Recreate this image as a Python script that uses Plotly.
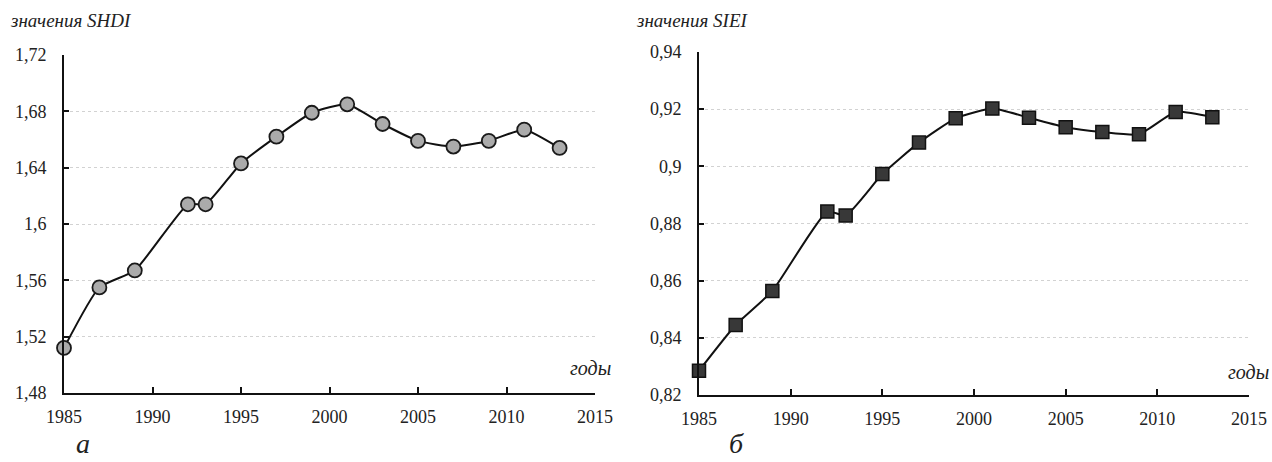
import plotly.graph_objects as go

years = [1985, 1987, 1989, 1992, 1993, 1995, 1997, 1999, 2001, 2003, 2005, 2007, 2009, 2011, 2013]
shdi = [1.512, 1.555, 1.567, 1.614, 1.614, 1.643, 1.662, 1.679, 1.685, 1.671, 1.659, 1.655, 1.659, 1.667, 1.654]
siei = [0.8285, 0.8445, 0.8564, 0.8842, 0.8828, 0.8973, 0.9083, 0.9168, 0.9202, 0.9170, 0.9137, 0.9120, 0.9112, 0.9190, 0.9172]

x_ticks = [1985, 1990, 1995, 2000, 2005, 2010, 2015]
shdi_ticks = [1.48, 1.52, 1.56, 1.60, 1.64, 1.68, 1.72]
shdi_labels = ["1,48", "1,52", "1,56", "1,6", "1,64", "1,68", "1,72"]
siei_ticks = [0.82, 0.84, 0.86, 0.88, 0.90, 0.92, 0.94]
siei_labels = ["0,82", "0,84", "0,86", "0,88", "0,9", "0,92", "0,94"]

W, H = 1272, 462
FONT = "'Liberation Serif', 'DejaVu Serif', serif"

fig = go.Figure()
fig.add_trace(go.Scatter(
    x=years, y=shdi, mode="lines+markers", xaxis="x", yaxis="y",
    line=dict(color="#111111", width=2, shape="spline", smoothing=0.5),
    marker=dict(symbol="circle", size=14, color="#ababab", line=dict(color="#1a1a1a", width=1.8)),
    showlegend=False, cliponaxis=False))
fig.add_trace(go.Scatter(
    x=years, y=siei, mode="lines+markers", xaxis="x2", yaxis="y2",
    line=dict(color="#111111", width=2, shape="spline", smoothing=0.5),
    marker=dict(symbol="square", size=13, color="#383838", line=dict(color="#111111", width=1.5)),
    showlegend=False, cliponaxis=False))

def xax(domain, anchor):
    return dict(domain=domain, anchor=anchor, range=[1985, 2015], tickvals=x_ticks,
                ticks="inside", ticklen=6, tickwidth=1.5, tickcolor="#111",
                showline=True, linecolor="#111", linewidth=2, showgrid=False, zeroline=False,
                automargin=False,
                tickfont=dict(family=FONT, size=18, color="#222"), ticklabelstandoff=6)

def yax(domain, anchor, rng, tv, tt):
    return dict(domain=domain, anchor=anchor, range=rng, tickvals=tv, ticktext=tt,
                ticks="inside", ticklen=5, tickwidth=1.5, tickcolor="#111",
                showline=True, linecolor="#111", linewidth=2, zeroline=False,
                showgrid=True, gridcolor="#d2d2d2", gridwidth=1.2, griddash="dot",
                automargin=False,
                tickfont=dict(family=FONT, size=18, color="#222"), ticklabelstandoff=12)

fig.update_layout(
    template="none",
    width=W, height=H, margin=dict(l=0, r=0, t=0, b=0, pad=0),
    paper_bgcolor="white", plot_bgcolor="white",
    font=dict(family=FONT, color="#222"),
    xaxis=xax([64 / W, 595 / W], "y"),
    yaxis=yax([1 - 393 / H, 1 - 55 / H], "x", [1.48, 1.72], shdi_ticks, shdi_labels),
    xaxis2=xax([699 / W, 1249 / W], "y2"),
    yaxis2=yax([1 - 395 / H, 1 - 52 / H], "x2", [0.82, 0.94], siei_ticks, siei_labels),
)

def ann(text, x, y, size, xanchor="left", yanchor="middle"):
    fig.add_annotation(text=text, x=x / W, y=1 - y / H, xref="paper", yref="paper",
                       showarrow=False, xanchor=xanchor, yanchor=yanchor,
                       font=dict(family=FONT, size=size, color="#222"))

ann("<i>значения SHDI</i>", 8, 21, 19)
ann("<i>значения SIEI</i>", 634, 21, 19)
ann("<i>годы</i>", 613, 368, 20, "right")
ann("<i>годы</i>", 1271, 372, 20, "right")
ann("<i>а</i>", 83, 461, 28, "center", "bottom")
ann("<i>б</i>", 736, 461, 28, "center", "bottom")

fig.write_html("out.html", config={"displayModeBar": False},
               post_script="document.body.style.margin='0';document.body.style.overflow='hidden';")
